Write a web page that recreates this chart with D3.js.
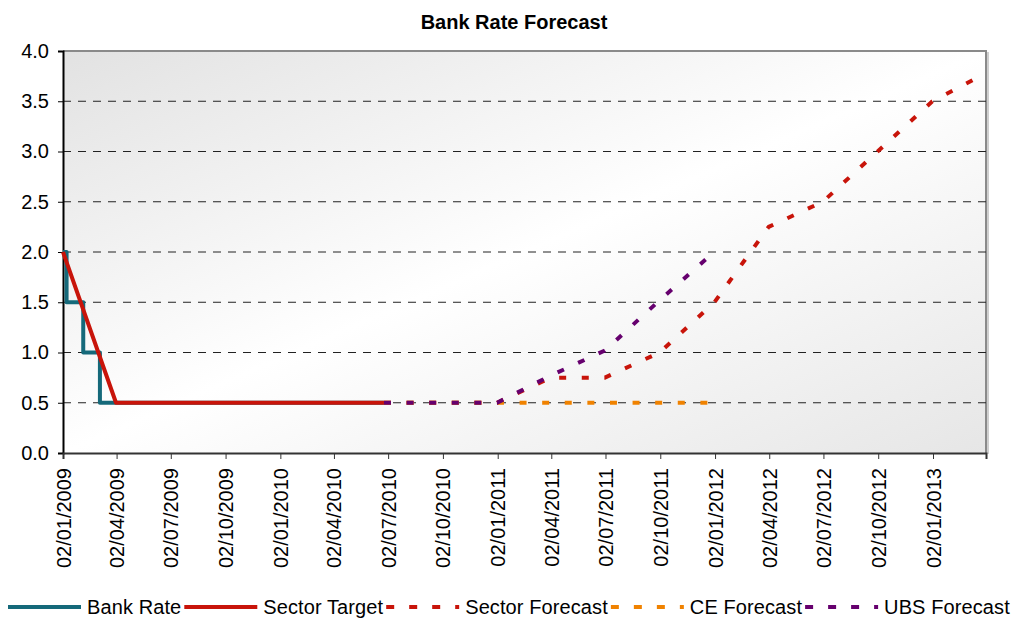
<!DOCTYPE html>
<html>
<head>
<meta charset="utf-8">
<script src="https://cdn.jsdelivr.net/npm/d3@7"></script>
<style>
  body { margin: 0; background: #fff; }
  text { font-family: "Liberation Sans", Arial, sans-serif; fill: #000; }
</style>
</head>
<body>
<div id="chartContainer"></div>
<script>
// data
var xTickLabels = ["02/01/2009","02/04/2009","02/07/2009","02/10/2009","02/01/2010","02/04/2010",
  "02/07/2010","02/10/2010","02/01/2011","02/04/2011","02/07/2011","02/10/2011","02/01/2012",
  "02/04/2012","02/07/2012","02/10/2012","02/01/2013"];
var yTicks = [0, 0.5, 1.0, 1.5, 2.0, 2.5, 3.0, 3.5, 4.0];

var bankRateDates = ["2009-01-02","2009-01-08","2009-02-05","2009-03-05","2010-06-25"];
var bankRateValues = [2.0, 1.5, 1.0, 0.5, 0.5];

var sectorTargetDates = ["2009-01-02","2009-04-01","2010-06-25"];
var sectorTargetValues = [2.0, 0.5, 0.5];

var sectorForecastDates = ["2010-06-25","2011-01-01","2011-04-01","2011-07-01","2011-10-01","2012-01-01",
  "2012-04-01","2012-07-01","2012-10-01","2013-01-01","2013-03-16"];
var sectorForecastValues = [0.5, 0.5, 0.75, 0.75, 1.0, 1.5, 2.25, 2.5, 3.0, 3.5, 3.73];

var ceForecastDates = ["2010-06-25","2011-12-28"];
var ceForecastValues = [0.5, 0.5];

var ubsForecastDates = ["2010-06-25","2011-01-01","2011-04-01","2011-07-01","2011-10-01","2011-12-20"];
var ubsForecastValues = [0.5, 0.5, 0.77, 1.02, 1.52, 1.94];

var seriesNames = ["Bank Rate","Sector Target","Sector Forecast","CE Forecast","UBS Forecast"];

var width = 1023, height = 618;
var plotLeft = 63, plotRight = 986, plotTop = 51, plotBottom = 453;

var parseIso = d3.timeParse("%Y-%m-%d");
var parseTick = d3.timeParse("%d/%m/%Y");

function makeSeries(dates, values) {
  return dates.map(function(d, i) { return { date: parseIso(d), value: values[i] }; });
}

var series = [
  { name: seriesNames[0], data: makeSeries(bankRateDates, bankRateValues), color: "#15697a", dash: null, step: true },
  { name: seriesNames[1], data: makeSeries(sectorTargetDates, sectorTargetValues), color: "#c8140a", dash: null },
  { name: seriesNames[2], data: makeSeries(sectorForecastDates, sectorForecastValues), color: "#c8140a", dash: "7,15.6" },
  { name: seriesNames[3], data: makeSeries(ceForecastDates, ceForecastValues), color: "#f08200", dash: "7,15.6" },
  { name: seriesNames[4], data: makeSeries(ubsForecastDates, ubsForecastValues), color: "#66006e", dash: "7,15.6" }
];

var svg = d3.select("#chartContainer")
  .append("svg")
    .attr("width", width)
    .attr("height", height);

// background gradient of the plot area
var defs = svg.append("defs");
var grad = defs.append("linearGradient")
  .attr("id", "plotBg")
  .attr("x1", "0%").attr("y1", "0%")
  .attr("x2", "100%").attr("y2", "100%");
grad.append("stop").attr("offset", "0%").attr("stop-color", "#e2e2e2");
grad.append("stop").attr("offset", "50%").attr("stop-color", "#ffffff");
grad.append("stop").attr("offset", "100%").attr("stop-color", "#e6e6e6");

var x = d3.scaleTime()
  .domain([parseIso("2009-01-02"), parseIso("2013-04-01")])
  .range([plotLeft, plotRight]);

var y = d3.scaleLinear()
  .domain([0, 4])
  .range([plotBottom, plotTop]);

svg.append("rect")
  .attr("x", plotLeft).attr("y", plotTop)
  .attr("width", plotRight - plotLeft).attr("height", plotBottom - plotTop)
  .attr("fill", "url(#plotBg)");

// shadow + top/right border
svg.append("line")
  .attr("x1", plotRight + 2).attr("x2", plotRight + 2)
  .attr("y1", plotTop + 1).attr("y2", plotBottom + 1)
  .attr("stroke", "#cfcfcf").attr("stroke-width", 2);
svg.append("path")
  .attr("d", "M" + plotLeft + "," + plotTop + "H" + plotRight + "V" + plotBottom)
  .attr("fill", "none")
  .attr("stroke", "#8a8a8a")
  .attr("stroke-width", 2);

// gridlines
svg.append("g")
  .selectAll("line")
  .data(yTicks.filter(function(t) { return t > 0 && t < 4; }))
  .join("line")
    .attr("x1", plotLeft).attr("x2", plotRight)
    .attr("y1", function(d) { return y(d); })
    .attr("y2", function(d) { return y(d); })
    .attr("stroke", "#222")
    .attr("stroke-width", 1)
    .attr("stroke-dasharray", "8,7");

// y axis
var yAxis = svg.append("g")
  .attr("transform", "translate(" + plotLeft + ",0)")
  .call(d3.axisLeft(y).tickValues(yTicks).tickFormat(d3.format(".1f")).tickSize(5).tickPadding(9));
yAxis.select(".domain").attr("stroke", "#000").attr("stroke-width", 2);
yAxis.selectAll(".tick line").attr("stroke", "#000");
yAxis.selectAll("text").style("font-size", "20px").attr("fill", "#000");

// x axis
var xTickDates = xTickLabels.map(function(s) { return parseTick(s); });
var xAxis = svg.append("g")
  .attr("transform", "translate(0," + plotBottom + ")")
  .call(d3.axisBottom(x).tickValues(xTickDates).tickSize(6)
    .tickFormat(function(d, i) { return xTickLabels[i]; }));
xAxis.select(".domain").attr("stroke", "#333").attr("stroke-width", 2);
xAxis.selectAll(".tick line").attr("stroke", "#333");
xAxis.selectAll("text")
  .style("font-size", "20px")
  .attr("fill", "#000")
  .attr("text-anchor", "end")
  .attr("transform", "translate(0,15) rotate(-90)")
  .attr("x", 0)
  .attr("y", 0)
  .attr("dy", "0.35em");

// lines
series.forEach(function(s) {
  var line = d3.line()
    .x(function(d) { return x(d.date); })
    .y(function(d) { return y(d.value); });
  if (s.step) line.curve(d3.curveStepAfter);
  svg.append("path")
    .datum(s.data)
    .attr("fill", "none")
    .attr("stroke", s.color)
    .attr("stroke-width", 4)
    .attr("stroke-linejoin", "round")
    .attr("stroke-dasharray", s.dash)
    .attr("d", line);
});

// title
svg.append("text")
  .attr("x", 514)
  .attr("y", 29)
  .attr("text-anchor", "middle")
  .style("font-size", "20px")
  .style("font-weight", "bold")
  .text("Bank Rate Forecast");

// legend
var legend = svg.append("g").attr("transform", "translate(8,607)");
var lx = 0;
series.forEach(function(s) {
  legend.append("line")
    .attr("x1", lx).attr("x2", lx + 73)
    .attr("y1", 0).attr("y2", 0)
    .attr("stroke", s.color)
    .attr("stroke-width", 4)
    .attr("stroke-dasharray", s.dash ? "8,15" : null);
  var t = legend.append("text")
    .attr("x", lx + 79)
    .attr("y", 7)
    .style("font-size", "20px")
    .style("letter-spacing", "0.1px")
    .text(s.name);
  lx += 79 + t.node().getComputedTextLength() + 3;
});
</script>
</body>
</html>
